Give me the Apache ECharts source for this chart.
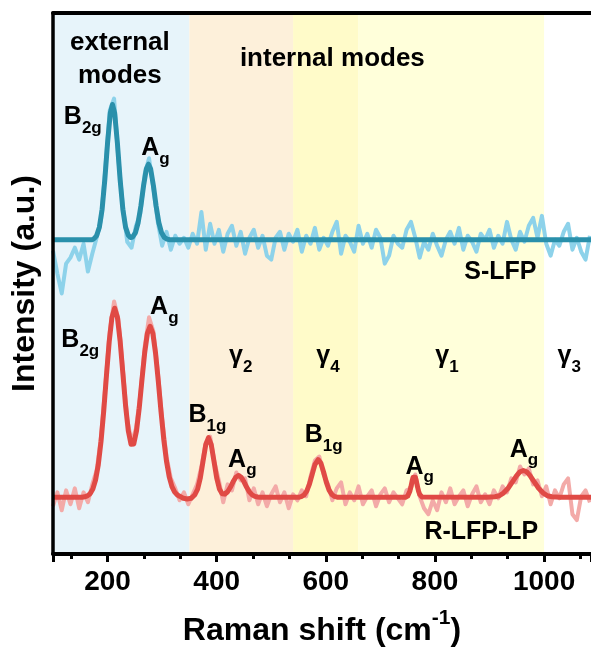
<!DOCTYPE html>
<html><head><meta charset="utf-8">
<script src="https://cdn.jsdelivr.net/npm/echarts@6/dist/echarts.min.js"></script>
<style>html,body{margin:0;padding:0;background:#fff}#c{width:591px;height:652px}</style>
</head><body><div id="c"></div>
<script>
// Raw spectra sampled every 8 cm^-1 from 100 cm^-1
const rawStart = 100, rawStep = 8;
const blueRaw = [305,282,262,292,298,308,296,312,284,302,318,336,388,446,458,396,350,314,308,330,
  342,382,398,368,334,310,324,306,320,312,318,308,322,312,344,306,332,312,326,304,
  322,330,310,324,302,318,326,308,320,300,296,318,324,306,322,314,326,304,320,312,
  328,306,318,310,324,334,302,320,314,304,330,312,322,308,326,318,292,300,320,312,
  308,326,334,318,298,314,306,322,310,300,316,324,312,328,306,320,314,304,322,316,
  326,308,320,312,334,316,306,324,314,330,338,318,340,312,300,316,310,324,332,306,
  318,304,296,320];
const redRaw = [48,62,44,64,50,66,46,62,52,70,84,118,170,224,254,236,186,136,112,126,
  160,208,238,224,184,136,98,76,66,54,62,50,60,70,88,112,118,92,74,52,
  70,64,82,74,76,54,66,50,62,48,60,68,52,62,46,60,54,64,58,78,
  94,98,80,70,54,66,72,50,62,54,68,50,58,64,48,60,66,52,62,56,
  50,64,66,80,58,46,40,54,44,62,52,66,50,58,64,48,60,68,52,60,
  50,64,56,68,62,76,72,88,80,86,70,74,58,68,50,64,56,70,76,40,
  34,58,64,52];
// Fitted curves [Raman shift, intensity]
const blueFit = [[100,316],[172,316],[176,317.5],[180,320.2],[185,328.6],[190,346.6],[195,376.5],[200,413.4],
  [205,443.3],[209,452],[213,443.3],[218,413.4],[223,376.5],[228,346.6],[233,328.7],[238,320.5],[242,318.3],
  [246,318.8],[251,323],[256,333.1],[261,349.8],[266,370.4],[271,387.1],[275,392],[279,387.1],[284,370.4],
  [289,349.8],[294,333.1],[299,323],[304,318.4],[309,316.6],[314,316],[1086,316]];
const redFit = [[100,57],[153,57],[158,57.5],[163,58.4],[168,60.6],[173,65.3],[178,74.4],[183,89.7],[188,113.1],
  [193,144],[198,179.6],[203,213.4],[208,237.9],[213,247.1],[218,238.2],[223,214.3],[228,181.9],[233,149.2],
  [238,123.9],[243,110.3],[248,110.7],[253,123.6],[258,146.6],[263,175],[268,202.2],[273,221.8],[278,229],
  [283,221.8],[288,201.7],[293,173.6],[298,143],[303,115.3],[308,93.3],[313,77.6],[318,67.8],[323,62.2],
  [328,59.3],[333,57.9],[339,56],[346,55.3],[353,56],[360,59.6],[365,65.1],[370,76.5],[375,93.4],[380,109.9],
  [385,117],[390,109.9],[395,93.4],[400,76.6],[405,65.4],[410,60.6],[415,60.2],[420,62.6],[425,67.1],[430,72.6],
  [435,77.2],[440,79],[445,77.2],[450,72.6],[455,67.1],[460,62.5],[465,59.5],[470,58],[475,57.3],[480,57],
  [550,57],[555,57.7],[560,59.3],[565,63.2],[570,70.2],[575,80],[580,89.8],[586,95],[591,91.3],[596,82.2],
  [601,72],[606,64.3],[611,59.9],[616,57.9],[622,57],[746,57],[748,57.4],[750,58.2],[752,60],[754,63.1],
  [756,67.7],[758,73],[760,77.3],[762,79],[764,77.3],[766,73],[768,67.7],[770,63.1],[772,60],[774,58.2],
  [776,57.4],[778,57],[894,57],[902,57.3],[910,57.6],[918,58.6],[926,61.5],[934,66.1],[942,72.5],[950,79.1],
  [956,82.7],[962,84],[968,82.7],[974,79.1],[982,72.5],[990,66.1],[998,61.5],[1006,58.6],[1014,57.6],
  [1022,57.3],[1030,57],[1086,57]];
// Shaded regions
const bandStart = [100, 350, 540, 660];
const bandEnd = [350, 540, 660, 1000];
const bandColors = ['#e7f4fa', '#fdf0da', '#fffbc9', '#ffffda'];
// Annotations (centre positions in data units)
const labelX = [154.6, 287.6, 150, 304, 444, 604, 822, 1046, 920, 885, 383, 447, 596, 772, 963, 222.5, 612];
const labelY = [436, 404.3, 211.3, 244.3, 195, 195, 195, 195, 283.5, 22, 136.3, 91.3, 116.3, 84.3, 101.3, 497.5, 498];
const labelText = ['{b|B}{s|2g}', '{b|A}{s|g}', '{b|B}{s|2g}', '{b|A}{s|g}',
  '{b|γ}{s|2}', '{b|γ}{s|4}', '{b|γ}{s|1}', '{b|γ}{s|3}',
  '{p|S-LFP}', '{p|R-LFP-LP}',
  '{b|B}{s|1g}', '{b|A}{s|g}', '{b|B}{s|1g}', '{b|A}{s|g}', '{b|A}{s|g}',
  '{t|external}\n{t|modes}', '{t|internal modes}'];

const FONT = '"Liberation Sans", Arial, Helvetica, sans-serif';
const toPairs = arr => arr.map((v, i) => [rawStart + i * rawStep, v]);
const chart = echarts.init(document.getElementById('c'));
const option = {
  animation: false,
  backgroundColor: '#ffffff',
  grid: { left: 53, right: 0, top: 13, bottom: 95, containLabel: false },
  xAxis: [{
    type: 'value', min: 100, max: 1086, splitNumber: 5, z: 10,
    name: '{n|Raman shift (cm}{sup|-1}{n|)}', nameLocation: 'middle', nameGap: 54,
    nameTextStyle: {
      color: '#000', fontFamily: FONT, fontWeight: 'bold', fontSize: 32,
      rich: {
        n: { fontSize: 32, fontWeight: 'bold', fontFamily: FONT, color: '#000', verticalAlign: 'bottom' },
        sup: { fontSize: 21, fontWeight: 'bold', fontFamily: FONT, color: '#000', verticalAlign: 'top', lineHeight: 39 }
      }
    },
    axisLine: { show: true, onZero: false, lineStyle: { color: '#000', width: 4 } },
    axisTick: { show: true, length: 8, lineStyle: { color: '#000', width: 3 } },
    minorTick: { show: true, splitNumber: 3, length: 5, lineStyle: { color: '#000', width: 3 } },
    axisLabel: { show: true, margin: 14, fontSize: 28, fontWeight: 'bold', color: '#000', fontFamily: FONT,
      showMinLabel: false, showMaxLabel: false, formatter: v => String(Math.round(v)) },
    splitLine: { show: false }, minorSplitLine: { show: false }
  }, {
    type: 'value', position: 'top', min: 100, max: 1086, z: 10,
    axisLine: { show: true, onZero: false, lineStyle: { color: '#000', width: 4 } },
    axisTick: { show: false }, axisLabel: { show: false }, splitLine: { show: false }
  }],
  yAxis: {
    type: 'value', min: 0, max: 544, z: 10,
    name: 'Intensity (a.u.)', nameLocation: 'middle', nameGap: 12,
    nameTextStyle: { color: '#000', fontFamily: FONT, fontWeight: 'bold', fontSize: 32 },
    axisLine: { show: true, onZero: false, lineStyle: { color: '#000', width: 3.5 } },
    axisTick: { show: false }, axisLabel: { show: false }, splitLine: { show: false }
  },
  series: [
    {
      name: 'S-LFP raw', type: 'line', data: toPairs(blueRaw), showSymbol: false, z: 2,
      lineStyle: { color: '#8dd2ea', width: 4, join: 'round' },
      markArea: {
        silent: true, label: { show: false },
        data: bandStart.map((s, i) => [{ xAxis: s, itemStyle: { color: bandColors[i], opacity: 1 } }, { xAxis: bandEnd[i] }])
      }
    },
    { name: 'R-LFP-LP raw', type: 'line', data: toPairs(redRaw), showSymbol: false, z: 2,
      lineStyle: { color: '#f3aaa8', width: 4, join: 'round' } },
    { name: 'S-LFP fit', type: 'line', data: blueFit, showSymbol: false, z: 3,
      lineStyle: { color: '#2a90ab', width: 5, join: 'round' } },
    { name: 'R-LFP-LP fit', type: 'line', data: redFit, showSymbol: false, z: 3,
      lineStyle: { color: '#e04a45', width: 5, join: 'round' } },
    {
      name: 'labels', type: 'scatter', symbolSize: 0, z: 6, silent: true,
      itemStyle: { opacity: 1 },
      data: labelX.map((x, i) => [x, labelY[i]]),
      label: {
        show: true, position: 'inside', color: '#000', opacity: 1, textBorderWidth: 0,
        formatter: p => labelText[p.dataIndex],
        rich: {
          b: { fontSize: 25, fontWeight: 'bold', fontFamily: FONT, color: '#000', verticalAlign: 'top' },
          s: { fontSize: 17, fontWeight: 'bold', fontFamily: FONT, color: '#000', verticalAlign: 'bottom', lineHeight: 32 },
          p: { fontSize: 25, fontWeight: 'bold', fontFamily: FONT, color: '#000' },
          t: { fontSize: 26, fontWeight: 'bold', fontFamily: FONT, color: '#000', lineHeight: 33, align: 'center' }
        }
      }
    }
  ]
};
chart.setOption(option);
</script></body></html>
